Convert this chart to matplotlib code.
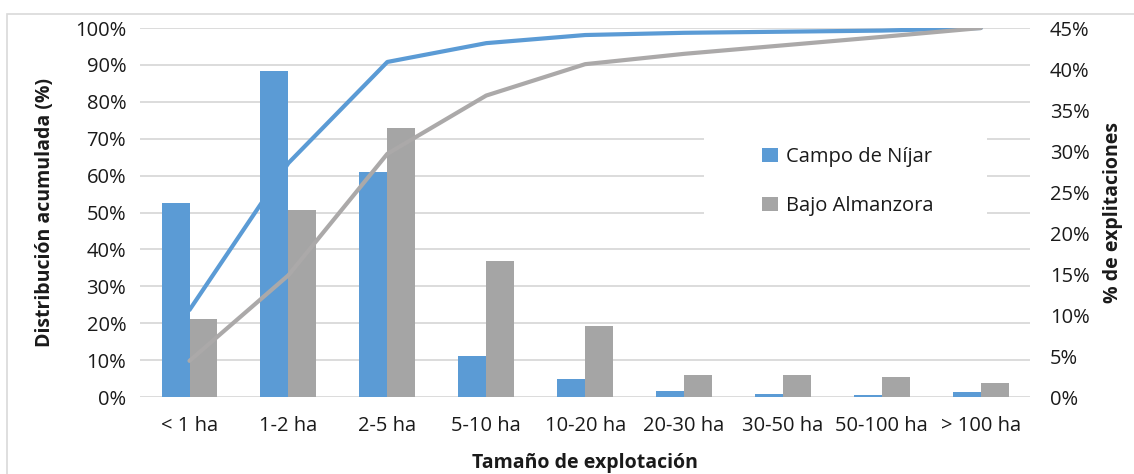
import matplotlib.pyplot as plt
import numpy as np
from matplotlib.patches import Rectangle

plt.rcParams['font.family'] = ['Open Sans', 'DejaVu Sans']

sizes = ['< 1 ha', '1-2 ha', '2-5 ha', '5-10 ha', '10-20 ha', '20-30 ha',
         '30-50 ha', '50-100 ha', '> 100 ha']

# % de explotaciones por tamaño (eje derecho)
pct_nijar = [23.7, 39.7, 27.4, 5.0, 2.2, 0.73, 0.33, 0.25, 0.6]
pct_almanzora = [9.5, 22.8, 32.8, 16.6, 8.7, 2.7, 2.7, 2.45, 1.75]

# distribución acumulada (eje izquierdo)
cum_nijar = [23.6, 63.4, 90.8, 95.9, 98.1, 98.7, 99.0, 99.3, 100.0]
cum_almanzora = [9.8, 33.0, 65.9, 81.7, 90.2, 93.0, 95.3, 97.6, 100.0]

blue = '#5B9BD5'
grey = '#A5A5A5'
grey_line = '#ABA9A9'
grid_c = '#D9D9D9'
txt = '#1a1a1a'

fig = plt.figure(figsize=(11.34, 4.74), dpi=100)
ax = fig.add_axes([0.1235, 0.1624, 0.785, 0.7785])

# chart border
fig.patches.append(Rectangle((7 / 1134, -0.05), 1.1, 1 - 14 / 474 + 0.05,
                             transform=fig.transFigure, fill=False,
                             edgecolor=grid_c, linewidth=1.2))

x = np.arange(len(sizes))
bw = 0.283

# left axis: cumulative scale + gridlines
ax.set_ylim(0, 100)
ax.set_xlim(-0.5, len(sizes) - 0.5)
ax.set_yticks(np.arange(0, 101, 10))
ax.set_yticklabels([f'{v}%' for v in range(0, 101, 10)])
ax.grid(axis='y', color=grid_c, linewidth=1.3)
ax.set_axisbelow(True)
ax.set_xticks(x)
ax.set_xticklabels(sizes)
ax.tick_params(length=0, labelsize=14.5, colors=txt, pad=10)
ax.tick_params(axis='x', pad=14)
for s in ax.spines.values():
    s.set_visible(False)
ax.set_ylabel('Distribución acumulada (%)', fontsize=14, fontweight='bold',
              color=txt, labelpad=14)
ax.set_xlabel('Tamaño de explotación', fontsize=14, fontweight='bold',
              color=txt, labelpad=12)

# right axis: bars
ax2 = ax.twinx()
ax2.set_ylim(0, 45)
ax2.bar(x - bw / 2, pct_nijar, bw, color=blue, label='Campo de Níjar')
ax2.bar(x + bw / 2, pct_almanzora, bw, color=grey, label='Bajo Almanzora')
ax2.set_yticks(np.arange(0, 46, 5))
ax2.set_yticklabels([f'{v}%' for v in range(0, 46, 5)])
ax2.tick_params(length=0, labelsize=14.5, colors=txt, pad=14)
for s in ax2.spines.values():
    s.set_visible(False)
ax2.set_ylabel('% de explitaciones', fontsize=14, fontweight='bold',
               color=txt, labelpad=10)

# white box behind the legend, hides the gridlines there
ax2.add_patch(Rectangle((0.633, 0.412), 0.318, 0.344, transform=ax2.transAxes,
                        facecolor='white', edgecolor='none', zorder=0.5))

# cumulative lines on top
ax3 = ax.twinx()
ax3.set_ylim(0, 100)
ax3.plot(x, cum_nijar, color=blue, linewidth=3, solid_capstyle='round')
ax3.plot(x, cum_almanzora, color=grey_line, linewidth=3, solid_capstyle='round')
ax3.axis('off')

h, l = ax2.get_legend_handles_labels()
leg = ax3.legend(h, l, loc='center', bbox_to_anchor=(0.795, 0.584),
                 bbox_transform=ax.transAxes, fontsize=14.5, frameon=False,
                 borderpad=0, labelspacing=1.45, handlelength=0.75,
                 handleheight=0.75, handletextpad=0.4)
for t in leg.get_texts():
    t.set_color(txt)

fig.savefig('out.png', dpi=100)
